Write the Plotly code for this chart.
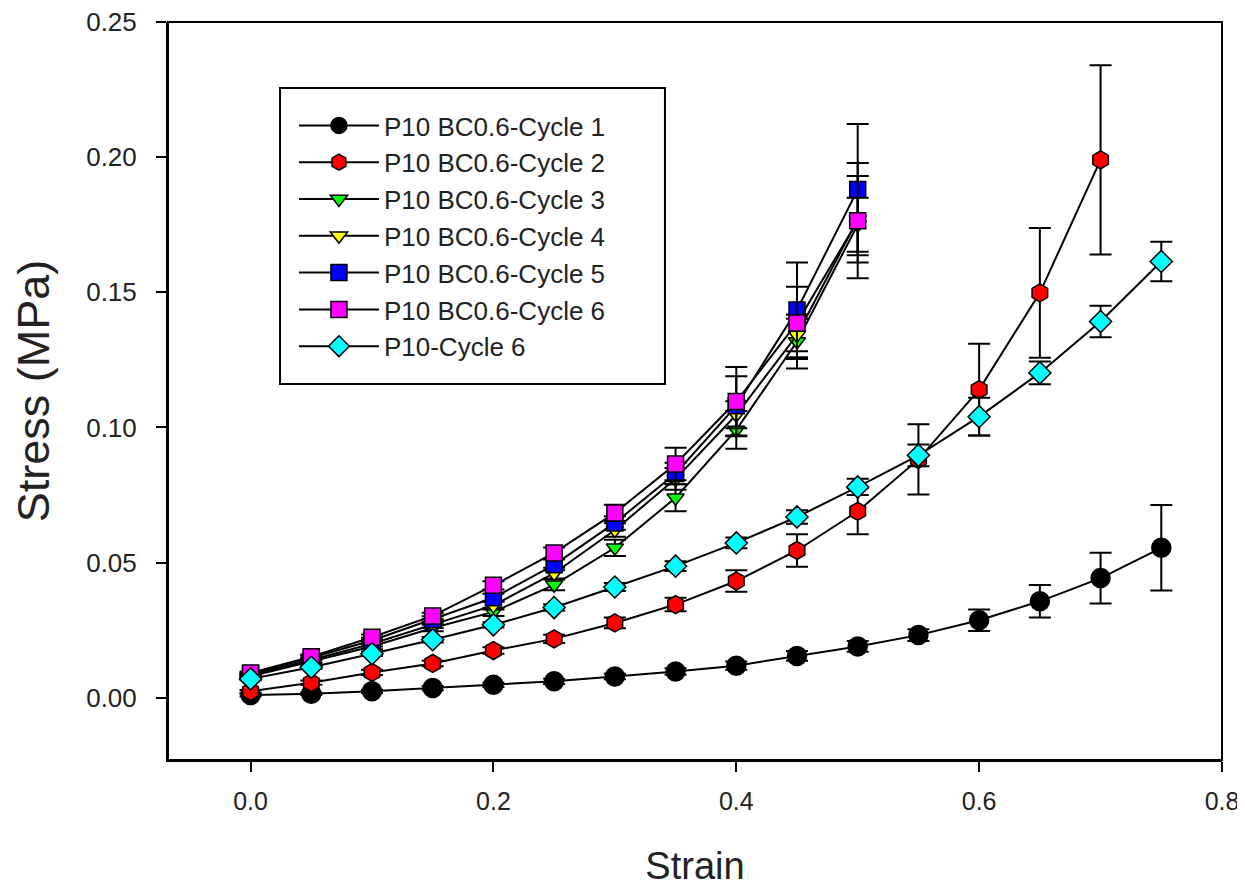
import plotly.graph_objects as go

# ---- data ----
strain_full = [0.0, 0.05, 0.10, 0.15, 0.20, 0.25, 0.30, 0.35, 0.40, 0.45, 0.50, 0.55, 0.60, 0.65, 0.70, 0.75]
strain_c2 = strain_full[:15]
strain_bc = strain_full[:11]

c1 = [0.0010, 0.0015, 0.0024, 0.0036, 0.0048, 0.0061, 0.0079, 0.0097, 0.0119, 0.0155, 0.0190, 0.0232, 0.0287, 0.0357, 0.0443, 0.0555]
c1_err = [0.0005, 0.0005, 0.0006, 0.0008, 0.0008, 0.0010, 0.0010, 0.0012, 0.0015, 0.0018, 0.0020, 0.0022, 0.0040, 0.0060, 0.0094, 0.0158]

c2 = [0.0024, 0.0056, 0.0094, 0.0127, 0.0175, 0.0218, 0.0277, 0.0345, 0.0432, 0.0545, 0.0690, 0.0882, 0.1140, 0.1498, 0.1990]
c2_err = [0.0005, 0.0008, 0.0010, 0.0010, 0.0012, 0.0015, 0.0020, 0.0025, 0.0040, 0.0060, 0.0085, 0.0130, 0.0170, 0.0240, 0.0350]

c3 = [0.0080, 0.0135, 0.0190, 0.0258, 0.0318, 0.0418, 0.0555, 0.0740, 0.0991, 0.1318, 0.1750]
c3_err = [0.0005, 0.0008, 0.0010, 0.0012, 0.0015, 0.0020, 0.0030, 0.0050, 0.0070, 0.0100, 0.0100]

c4 = [0.0084, 0.0140, 0.0200, 0.0270, 0.0342, 0.0461, 0.0621, 0.0810, 0.1047, 0.1342, 0.1770]
c4_err = [0.0005, 0.0008, 0.0010, 0.0012, 0.0015, 0.0020, 0.0025, 0.0040, 0.0050, 0.0060, 0.0160]

c5 = [0.0088, 0.0148, 0.0212, 0.0290, 0.0370, 0.0492, 0.0647, 0.0830, 0.1080, 0.1435, 0.1880]
c5_err = [0.0005, 0.0008, 0.0010, 0.0012, 0.0015, 0.0020, 0.0025, 0.0040, 0.0110, 0.0175, 0.0243]

c6 = [0.0092, 0.0152, 0.0224, 0.0303, 0.0416, 0.0536, 0.0684, 0.0865, 0.1096, 0.1387, 0.1765]
c6_err = [0.0005, 0.0008, 0.0010, 0.0012, 0.0015, 0.0020, 0.0030, 0.0060, 0.0128, 0.0134, 0.0213]

p10 = [0.0070, 0.0113, 0.0163, 0.0215, 0.0270, 0.0334, 0.0410, 0.0487, 0.0573, 0.0669, 0.0780, 0.0897, 0.1040, 0.1202, 0.1392, 0.1614]
p10_err = [0.0005, 0.0006, 0.0008, 0.0010, 0.0010, 0.0012, 0.0015, 0.0018, 0.0020, 0.0025, 0.0030, 0.0040, 0.0070, 0.0042, 0.0058, 0.0073]

names = ["P10 BC0.6-Cycle 1", "P10 BC0.6-Cycle 2", "P10 BC0.6-Cycle 3", "P10 BC0.6-Cycle 4",
         "P10 BC0.6-Cycle 5", "P10 BC0.6-Cycle 6", "P10-Cycle 6"]
xs = [strain_full, strain_c2, strain_bc, strain_bc, strain_bc, strain_bc, strain_full]
ys = [c1, c2, c3, c4, c5, c6, p10]
errs = [c1_err, c2_err, c3_err, c4_err, c5_err, c6_err, p10_err]
colors = ["#000000", "#ff0000", "#00ff00", "#ffff00", "#0000ff", "#ff00ff", "#00ffff"]
symbols = ["circle", "hexagon", "triangle-down", "triangle-down", "square", "square", "diamond"]
sizes = [19, 18, 15, 15, 16, 16, 17]

FONT = "Liberation Sans, Arial, sans-serif"
TXT = "#222222"

fig = go.Figure()
for i in range(7):
    fig.add_trace(go.Scatter(
        x=xs[i], y=ys[i], name=names[i], mode="lines+markers",
        legendgroup=f"g{i}",
        line=dict(color="black", width=2),
        marker=dict(symbol=symbols[i], size=sizes[i], color=colors[i],
                    line=dict(color="black", width=1.5)),
        error_y=dict(type="data", array=errs[i], visible=True,
                     color="black", thickness=2, width=11),
    ))

# plot frame and legend box (styling only)
fig.add_shape(type="rect", xref="paper", yref="paper", x0=0, x1=1, y0=0, y1=1,
              line=dict(color="black", width=2), fillcolor="rgba(0,0,0,0)", layer="above")
fig.add_shape(type="rect", xref="paper", yref="paper", x0=0.1063, x1=0.4715, y0=0.5094, y1=0.9106,
              line=dict(color="black", width=2), fillcolor="white", layer="above")

# page body has an 8px margin: plot area spans x 168..1222, y 22..760 in the window
fig.update_layout(
    width=1237, height=880,
    margin=dict(l=160, r=23, t=14, b=128),
    paper_bgcolor="white", plot_bgcolor="white",
    font=dict(family=FONT, color=TXT),
    showlegend=True,
    legend=dict(
        x=0.1195, y=0.8916, xanchor="left", yanchor="top",
        bgcolor="rgba(0,0,0,0)", borderwidth=0,
        font=dict(family=FONT, size=26, color=TXT),
        tracegroupgap=0, itemwidth=80,
    ),
    xaxis=dict(
        range=[-0.068, 0.8], tickmode="array", automargin=False,
        tickvals=[0.0, 0.2, 0.4, 0.6, 0.8], ticktext=["0.0", "0.2", "0.4", "0.6", "0.8"],
        ticks="outside", ticklen=10, tickwidth=2, tickcolor="black",
        ticklabelstandoff=8, ticklabeloverflow="allow",
        showline=True, linecolor="black", linewidth=2, mirror=False,
        showgrid=False, zeroline=False,
        tickfont=dict(family=FONT, size=25, color=TXT),
        title=dict(text="Strain", font=dict(family=FONT, size=38, color=TXT), standoff=38),
    ),
    yaxis=dict(
        range=[-0.023, 0.25], tickmode="array", automargin=False,
        tickvals=[0.0, 0.05, 0.10, 0.15, 0.20, 0.25],
        ticktext=["0.00", "0.05", "0.10", "0.15", "0.20", "0.25"],
        ticks="outside", ticklen=10, tickwidth=2, tickcolor="black",
        ticklabelstandoff=14, ticklabeloverflow="allow",
        showline=True, linecolor="black", linewidth=2, mirror=False,
        showgrid=False, zeroline=False,
        tickfont=dict(family=FONT, size=26, color=TXT),
        title=dict(text="Stress (MPa)", font=dict(family=FONT, size=45, color=TXT), standoff=26),
    ),
)

fig.write_html("out.html")
